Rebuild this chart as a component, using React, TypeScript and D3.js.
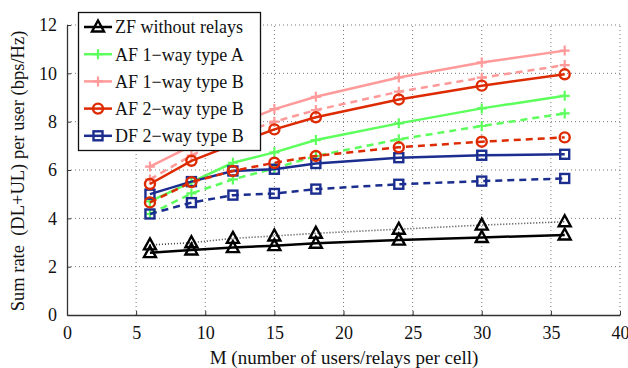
import React, { useEffect, useRef } from "react";
import * as d3 from "d3";

// number of users/relays per cell
const users = [6, 9, 12, 15, 18, 24, 30, 36];

const zfSolid = [2.58, 2.69, 2.79, 2.87, 2.97, 3.1, 3.21, 3.31];
const zfDotted = [2.9, 2.99, 3.17, 3.27, 3.38, 3.55, 3.72, 3.86];
const af1aSolid = [4.7, 5.5, 6.3, 6.73, 7.24, 7.93, 8.55, 9.07];
const af1aDashed = [4.18, 5.03, 5.61, 6.07, 6.58, 7.27, 7.82, 8.34];
const af1bSolid = [6.14, 7.0, 7.85, 8.52, 9.03, 9.83, 10.45, 10.94];
const af1bDashed = [5.61, 6.6, 7.4, 8.0, 8.48, 9.24, 9.82, 10.34];
const af2bSolid = [5.42, 6.38, 7.05, 7.68, 8.18, 8.92, 9.49, 9.96];
const af2bDashed = [4.66, 5.5, 5.96, 6.3, 6.58, 6.94, 7.17, 7.35];
const df2bSolid = [5.0, 5.52, 5.96, 6.03, 6.27, 6.51, 6.61, 6.65];
const df2bDashed = [4.18, 4.65, 4.96, 5.03, 5.21, 5.41, 5.54, 5.65];

const xTicks = [0, 5, 10, 15, 20, 25, 30, 35, 40];
const yTicks = [0, 2, 4, 6, 8, 10, 12];

const legendNames = [
  "ZF without relays",
  "AF 1\u2212way type A",
  "AF 1\u2212way type B",
  "AF 2\u2212way type B",
  "DF 2\u2212way type B",
];

const BLACK = "#000000";
const GREEN = "#5cff5c";
const PINK = "#ff9a9a";
const RED = "#dd2a00";
const BLUE = "#1b2d8f";

const series = [
  { vals: af1bSolid, color: PINK, marker: "plus", dash: null },
  { vals: af1bDashed, color: PINK, marker: "plus", dash: "7,5" },
  { vals: af1aSolid, color: GREEN, marker: "plus", dash: null },
  { vals: af1aDashed, color: GREEN, marker: "plus", dash: "7,5" },
  { vals: df2bDashed, color: BLUE, marker: "square", dash: "7,5" },
  { vals: df2bSolid, color: BLUE, marker: "square", dash: null },
  { vals: af2bDashed, color: RED, marker: "circle", dash: "7,5" },
  { vals: af2bSolid, color: RED, marker: "circle", dash: null },
  { vals: zfDotted, color: BLACK, marker: "triangle", dash: "1,2" },
  { vals: zfSolid, color: BLACK, marker: "triangle", dash: null },
];

const legendStyles = [
  { color: BLACK, marker: "triangle" },
  { color: GREEN, marker: "plus" },
  { color: PINK, marker: "plus" },
  { color: RED, marker: "circle" },
  { color: BLUE, marker: "square" },
];

function drawMarker(g: any, kind: string, x: number, y: number, color: string) {
  if (kind === "plus") {
    g.append("path")
      .attr("d", `M${x - 5},${y}H${x + 5}M${x},${y - 5}V${y + 5}`)
      .attr("stroke", color).attr("stroke-width", 2.2).attr("fill", "none");
  } else if (kind === "circle") {
    g.append("circle").attr("cx", x).attr("cy", y).attr("r", 5)
      .attr("stroke", color).attr("stroke-width", 2.4).attr("fill", "none");
  } else if (kind === "square") {
    g.append("rect").attr("x", x - 4.5).attr("y", y - 4.5)
      .attr("width", 9).attr("height", 9)
      .attr("stroke", color).attr("stroke-width", 2.4).attr("fill", "none");
  } else {
    g.append("path")
      .attr("d", `M${x},${y - 6.5}L${x + 6},${y + 4.5}L${x - 6},${y + 4.5}Z`)
      .attr("stroke", color).attr("stroke-width", 2.4).attr("fill", "none")
      .attr("stroke-linejoin", "miter");
  }
}

function Chart() {
  const ref = useRef<SVGSVGElement>(null);

  useEffect(() => {
    const svg = d3.select(ref.current);
    svg.selectAll("*").remove();

    const x = d3.scaleLinear().domain([0, 40]).range([67, 620]);
    const y = d3.scaleLinear().domain([0, 12]).range([315, 25]);
    const font = "'Liberation Serif', 'Times New Roman', serif";

    svg.append("rect").attr("width", 628).attr("height", 368).attr("fill", "white");

    // grid
    const grid = svg.append("g");
    xTicks.slice(1).forEach((t) => {
      grid.append("line")
        .attr("x1", x(t)).attr("x2", x(t)).attr("y1", y(0)).attr("y2", y(12))
        .attr("stroke", "#777").attr("stroke-width", 1).attr("stroke-dasharray", "1,3");
    });
    yTicks.slice(1).forEach((t) => {
      grid.append("line")
        .attr("x1", x(0)).attr("x2", x(40)).attr("y1", y(t)).attr("y2", y(t))
        .attr("stroke", "#777").attr("stroke-width", 1).attr("stroke-dasharray", "1,3");
    });

    // axes
    const xAxis = d3.axisBottom(x).tickValues(xTicks).tickSizeInner(-4).tickSizeOuter(0);
    const yAxis = d3.axisLeft(y).tickValues(yTicks).tickSizeInner(-4).tickSizeOuter(0);

    const gx = svg.append("g").attr("transform", `translate(0,${y(0)})`).call(xAxis);
    const gy = svg.append("g").attr("transform", `translate(${x(0)},0)`).call(yAxis);
    [gx, gy].forEach((g) => {
      g.select(".domain").attr("stroke", "#333").attr("stroke-width", 1.3);
      g.selectAll(".tick line").attr("stroke", "#333");
      g.selectAll("text").attr("font-family", font).attr("font-size", 18).attr("fill", "#111");
    });
    gx.selectAll("text").attr("y", 24).attr("dy", 0);
    gy.selectAll("text").attr("x", -10).attr("dy", "0.33em");

    svg.append("text")
      .attr("x", 344).attr("y", 364)
      .attr("text-anchor", "middle")
      .attr("font-family", font).attr("font-size", 19).attr("fill", "#111")
      .text("M (number of users/relays per cell)");

    svg.append("text")
      .attr("transform", `translate(24,171) rotate(-90)`)
      .attr("text-anchor", "middle")
      .attr("font-family", font).attr("font-size", 18.5).attr("fill", "#111")
      .attr("xml:space", "preserve")
      .text("Sum rate  (DL+UL) per user (bps/Hz)");

    // series
    const line = d3.line<number>()
      .x((_, i) => x(users[i]))
      .y((d) => y(d));

    const plot = svg.append("g");
    series.forEach((s) => {
      plot.append("path")
        .attr("d", line(s.vals))
        .attr("fill", "none")
        .attr("stroke", s.color)
        .attr("stroke-width", s.dash === "1,2" ? 1.6 : 2.5)
        .attr("stroke-dasharray", s.dash ?? null)
        .attr("opacity", s.dash === "1,2" ? 0.75 : 1);
      s.vals.forEach((v, i) => drawMarker(plot, s.marker, x(users[i]), y(v), s.color));
    });

    // legend
    const lg = svg.append("g");
    lg.append("rect")
      .attr("x", 78.5).attr("y", 12.5).attr("width", 182).attr("height", 138)
      .attr("fill", "white").attr("stroke", "#111").attr("stroke-width", 1.3);
    legendNames.forEach((name, i) => {
      const cy = 27 + i * 27.2;
      const st = legendStyles[i];
      lg.append("line")
        .attr("x1", 84).attr("x2", 112).attr("y1", cy).attr("y2", cy)
        .attr("stroke", st.color).attr("stroke-width", 2.5);
      drawMarker(lg, st.marker, 98, cy, st.color);
      lg.append("text")
        .attr("x", 115).attr("y", cy).attr("dy", "0.35em")
        .attr("font-family", font).attr("font-size", 18).attr("fill", "#111")
        .text(name);
    });
  }, []);

  return (
    <svg
      ref={ref}
      width={628}
      height={368}
      style={{ position: "absolute", left: 0, top: 0 }}
    />
  );
}

export default function App() {
  return <Chart />;
}
